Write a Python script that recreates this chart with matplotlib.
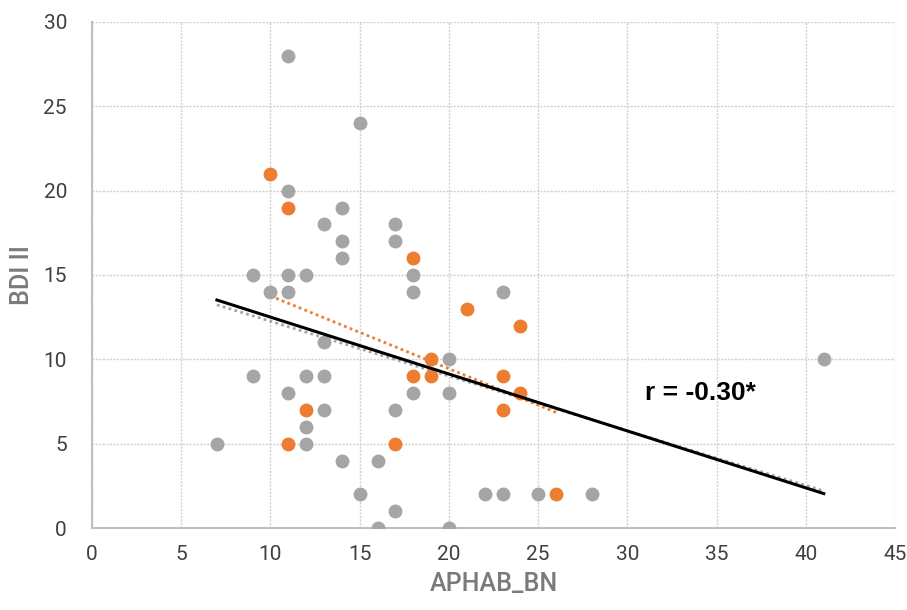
import numpy as np
import matplotlib.pyplot as plt

# grey group
grey_x = [7, 9, 9, 10, 11, 11, 11, 11, 11, 12, 12, 12, 12, 13, 13, 13, 13,
          14, 14, 14, 14, 15, 15, 16, 16, 17, 17, 17, 17, 18, 18, 18,
          20, 20, 20, 22, 23, 23, 25, 28, 41]
grey_y = [5, 15, 9, 14, 28, 20, 15, 14, 8, 15, 9, 6, 5, 18, 11, 9, 7,
          19, 17, 16, 4, 24, 2, 4, 0, 18, 17, 7, 1, 15, 14, 8,
          10, 8, 0, 2, 14, 2, 2, 2, 10]

# orange group
orange_x = [10, 11, 11, 12, 17, 18, 18, 19, 19, 21, 23, 23, 24, 24, 26]
orange_y = [21, 19, 5, 7, 5, 16, 9, 10, 9, 13, 9, 7, 12, 8, 2]

x_ticks = [0, 5, 10, 15, 20, 25, 30, 35, 40, 45]
y_ticks = [0, 5, 10, 15, 20, 25, 30]

GREY = '#a5a5a5'
ORANGE = '#ed7d31'

plt.rcParams['font.family'] = ['Roboto', 'DejaVu Sans']

fig = plt.figure(figsize=(9.07, 6.10), dpi=100)
ax = fig.add_axes([0.1014, 0.1344, 0.8856, 0.8296])

ax.scatter(grey_x, grey_y, s=100, color=GREY, zorder=3, linewidths=0)
ax.scatter(orange_x, orange_y, s=100, color=ORANGE, zorder=3, linewidths=0)

# trend lines (linear fits)
all_x = np.array(grey_x + orange_x)
all_y = np.array(grey_y + orange_y)
gx = np.array([min(grey_x), max(grey_x)])
ox = np.array([min(orange_x), max(orange_x)])

pg = np.polyfit(grey_x, grey_y, 1)
ax.plot(gx, np.polyval(pg, gx), color=GREY, linestyle=(0, (1, 1.2)), linewidth=2, zorder=2)
po = np.polyfit(orange_x, orange_y, 1)
ax.plot(ox, np.polyval(po, ox), color=ORANGE, linestyle=(0, (1, 1.2)), linewidth=2, zorder=2)
pa = np.polyfit(all_x, all_y, 1)
ax.plot(gx, np.polyval(pa, gx), color='black', linewidth=2.2, zorder=4)

ax.text(31, 8, 'r = -0.30*', fontsize=19, fontweight='bold',
        family=['Liberation Sans', 'DejaVu Sans'], va='center', ha='left')

ax.set_xlim(0, 45)
ax.set_ylim(0, 30)
ax.set_xticks(x_ticks)
ax.set_yticks(y_ticks)
ax.tick_params(length=0, labelsize=15, colors='#404040')
ax.tick_params(axis='y', pad=18)
ax.tick_params(axis='x', pad=12)
ax.grid(True, color='#cfcfcf', linestyle=(0, (1.5, 1)), linewidth=1)
ax.set_axisbelow(True)

for s in ['top', 'right']:
    ax.spines[s].set_visible(False)
for s in ['left', 'bottom']:
    ax.spines[s].set_color('#bfbfbf')
    ax.spines[s].set_linewidth(1.5)

ax.set_xlabel('APHAB_BN', fontsize=18, color='#7a7a7a', fontweight='medium', labelpad=6)
ax.set_ylabel('BDI II', fontsize=18, color='#7a7a7a', fontweight='medium', labelpad=7)

fig.savefig('out.png', dpi=100)
